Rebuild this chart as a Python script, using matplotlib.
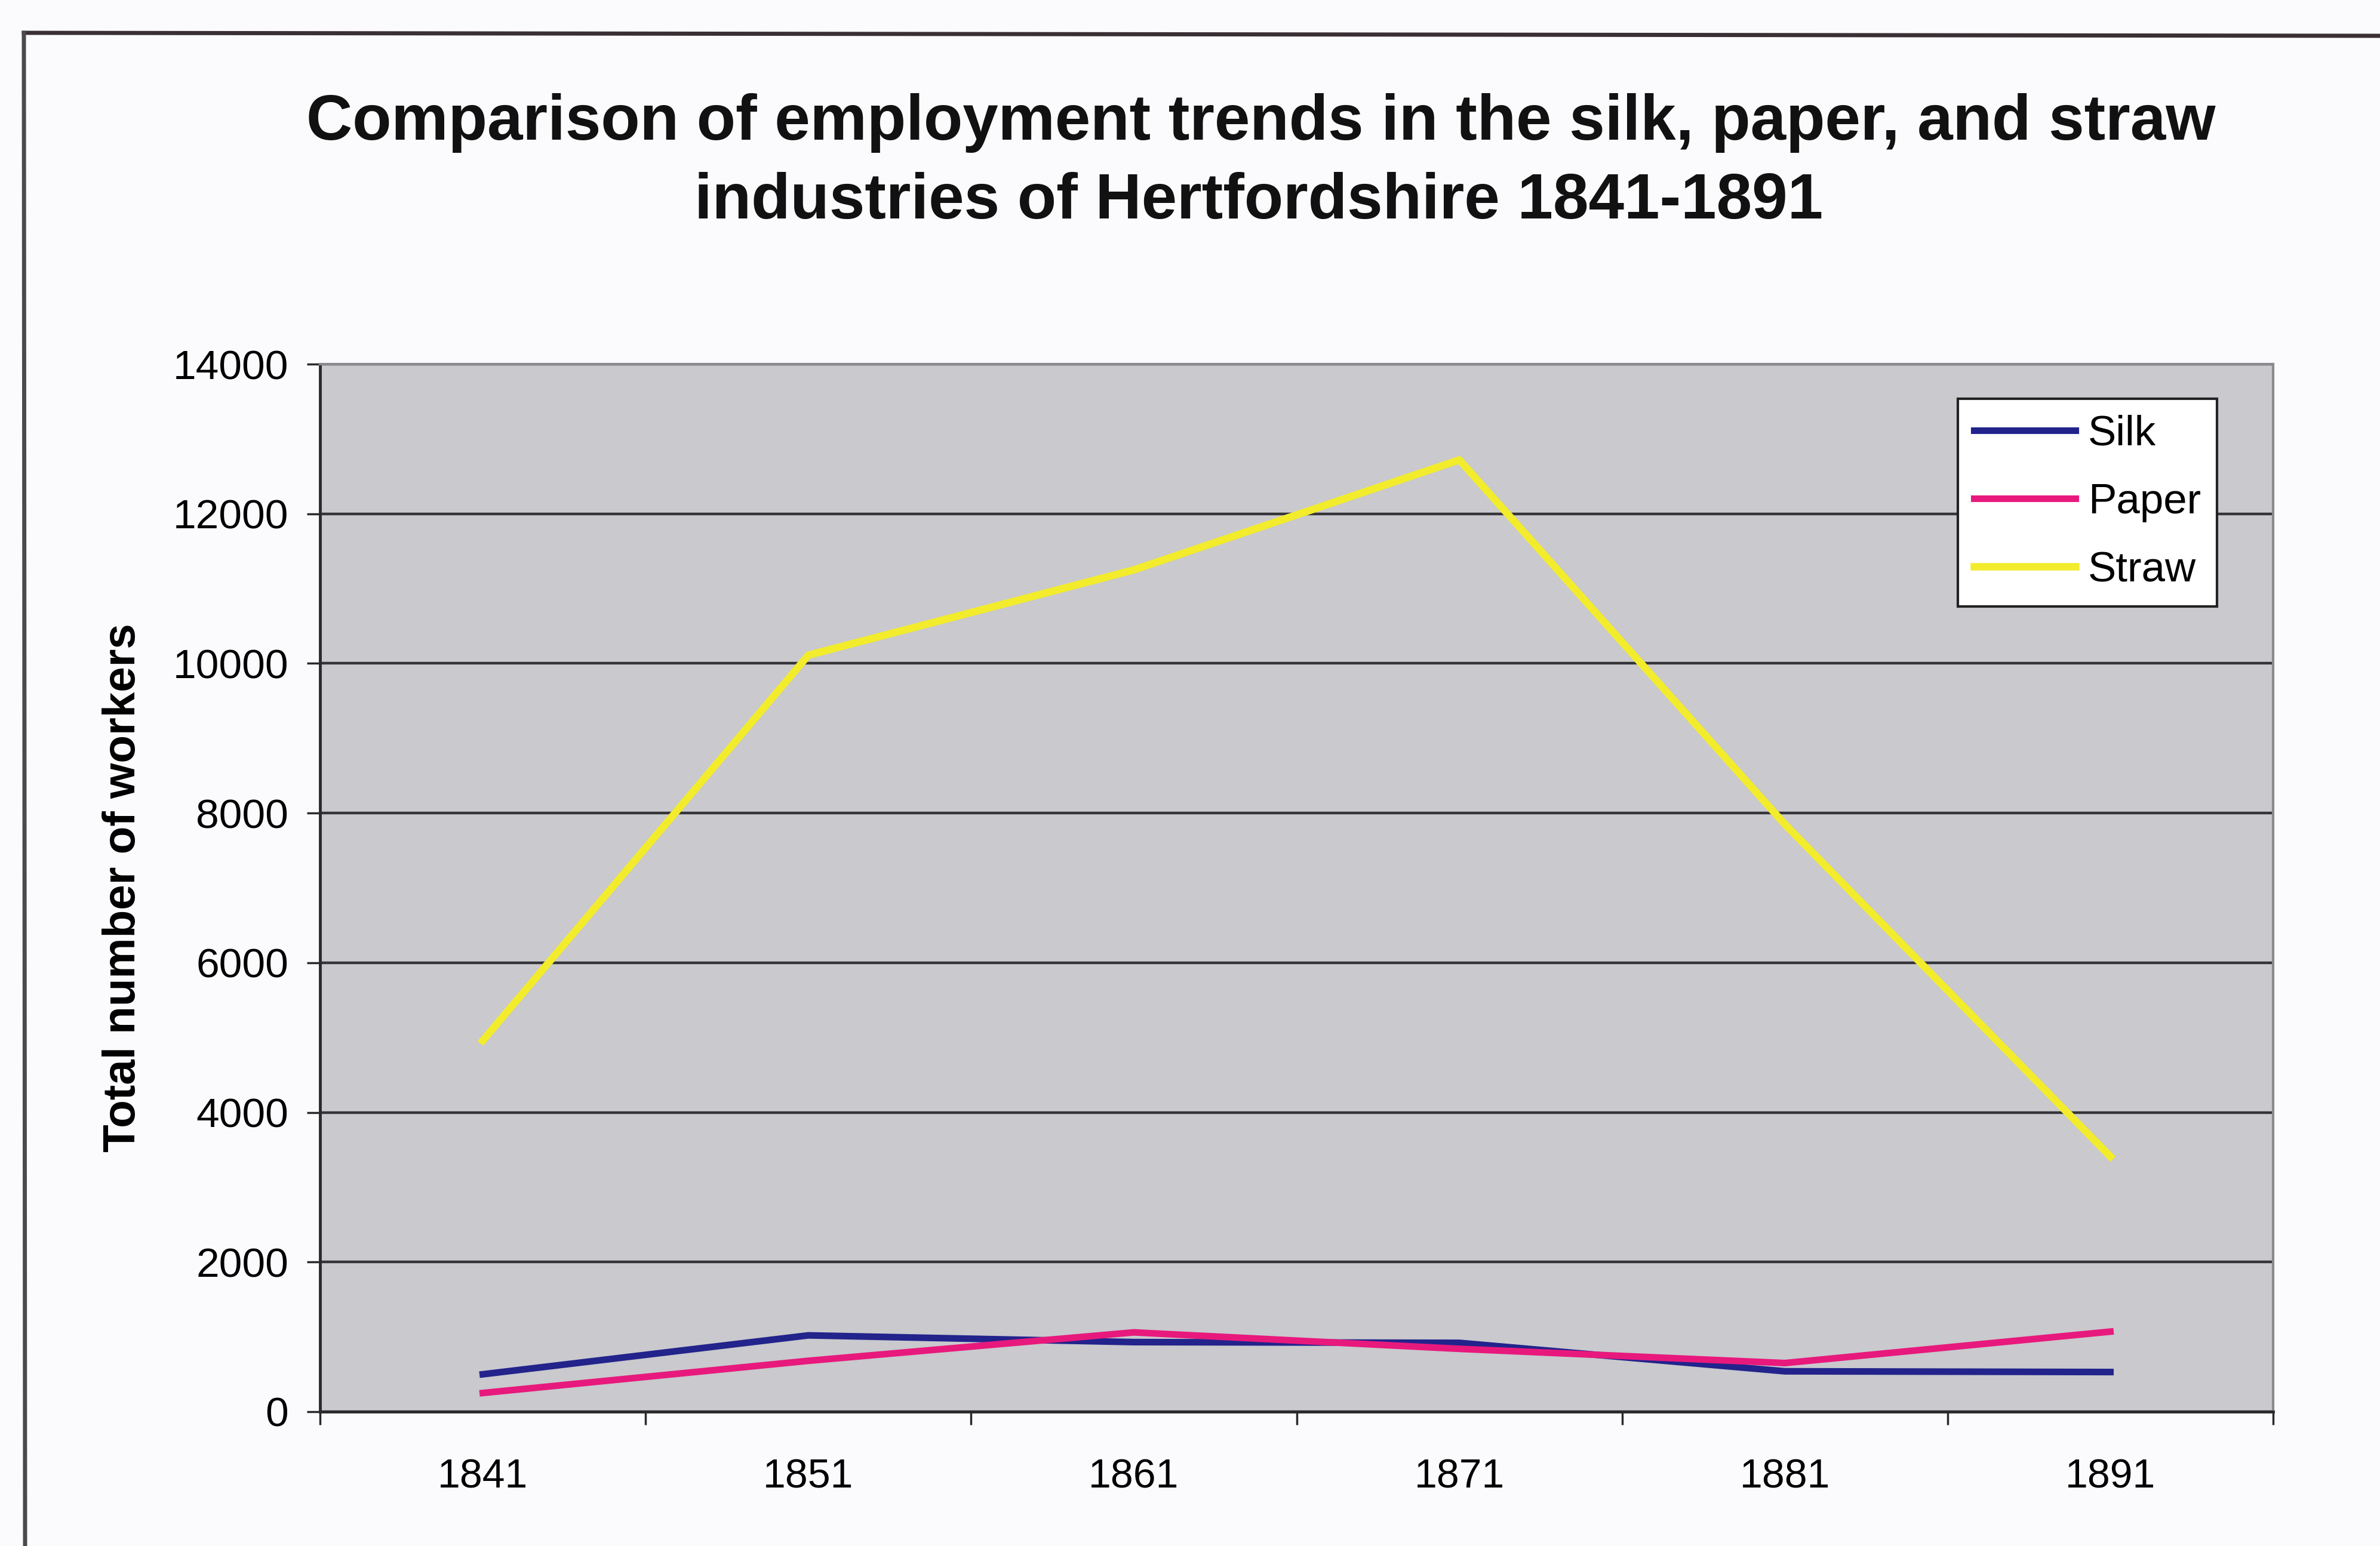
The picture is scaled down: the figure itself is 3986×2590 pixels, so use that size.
import matplotlib
matplotlib.use("Agg")
import matplotlib.pyplot as plt
from matplotlib.lines import Line2D

# Census years and employment counts per industry
years = ["1841", "1851", "1861", "1871", "1881", "1891"]
silk = [500, 1020, 930, 920, 540, 530]
paper = [250, 680, 1060, 840, 650, 1070]
straw = [4960, 10110, 11250, 12720, 7850, 3410]

y_ticks = [0, 2000, 4000, 6000, 8000, 10000, 12000, 14000]

title_line1 = "Comparison of employment trends in the silk, paper, and straw"
title_line2 = "industries of Hertfordshire 1841-1891"
y_label = "Total number of workers"

plt.rcParams["font.family"] = ["Liberation Sans", "DejaVu Sans"]

W, H = 3986, 2590
fig = plt.figure(figsize=(W / 100, H / 100), dpi=100, facecolor="#fbfbfd")

# plot area in pixel coordinates
left, right, top, bottom = 536, 3807, 610, 2365
ax = fig.add_axes([left / W, 1 - bottom / H, (right - left) / W, (bottom - top) / H])
ax.set_facecolor("#c9c9ce")

x = list(range(len(years)))
ax.plot(x, silk, color="#23238c", lw=8, label="Silk", zorder=3, solid_joinstyle="round")
ax.plot(x, paper, color="#e8197c", lw=8, label="Paper", zorder=4, solid_joinstyle="round")
ax.plot(x, straw, color="#f2ec2c", lw=9, label="Straw", zorder=5, solid_joinstyle="round")

ax.set_xlim(-0.5, len(years) - 0.5)
ax.set_ylim(0, 14000)

# category labels centred in bins, tick marks on bin boundaries
ax.set_xticks(x)
ax.set_xticklabels(years, fontsize=49)
ax.set_xticks([i - 0.5 for i in range(len(years) + 1)], minor=True)
ax.tick_params(axis="x", which="major", length=0, pad=56)
ax.tick_params(axis="x", which="minor", length=16, width=2.5, color="#2a2a2a")

ax.set_yticks(y_ticks)
ax.set_yticklabels([str(v) for v in y_ticks], fontsize=50)
ax.tick_params(axis="y", which="major", length=16, width=2.5, color="#2a2a2a", pad=22)

ax.yaxis.grid(True, color="#353539", lw=3.2)
ax.set_axisbelow(True)

for side in ("left", "bottom"):
    ax.spines[side].set_color("#2a2a2a")
    ax.spines[side].set_linewidth(3.5)
for side in ("top", "right"):
    ax.spines[side].set_color("#8a8a8e")
    ax.spines[side].set_linewidth(3)

ax.set_ylabel(y_label, fontsize=55, fontweight="bold")
ax.yaxis.set_label_coords((242 - left) / (right - left), 0.5)

leg = ax.legend(
    loc="upper right",
    bbox_to_anchor=(3713 / W, 1 - 668 / H),
    bbox_transform=fig.transFigure,
    borderaxespad=0,
    fontsize=51,
    frameon=True,
    fancybox=False,
    handlelength=2.4,
    handletextpad=0.3,
    labelspacing=0.68,
    borderpad=0.38,
)
leg.get_frame().set_facecolor("white")
leg.get_frame().set_edgecolor("#222222")
leg.get_frame().set_linewidth(3)
leg.get_frame().set_alpha(1)

# two-line bold title
fig.text(2112 / W, 1 - 206 / H, title_line1, ha="center", va="center",
         fontsize=77, fontweight="bold", color="#111111")
fig.text(2108 / W, 1 - 338 / H, title_line2, ha="center", va="center",
         fontsize=77, fontweight="bold", color="#111111")

# chart frame (top and left edges)
fig.add_artist(Line2D([40 / W, 1.0], [1 - 55 / H, 1 - 60 / H], transform=fig.transFigure,
                      color="#3a3034", lw=5))
fig.add_artist(Line2D([40 / W, 42 / W], [1 - 55 / H, 0.0], transform=fig.transFigure,
                      color="#4a4a4e", lw=5))

fig.savefig("out.png", dpi=100, facecolor=fig.get_facecolor())
